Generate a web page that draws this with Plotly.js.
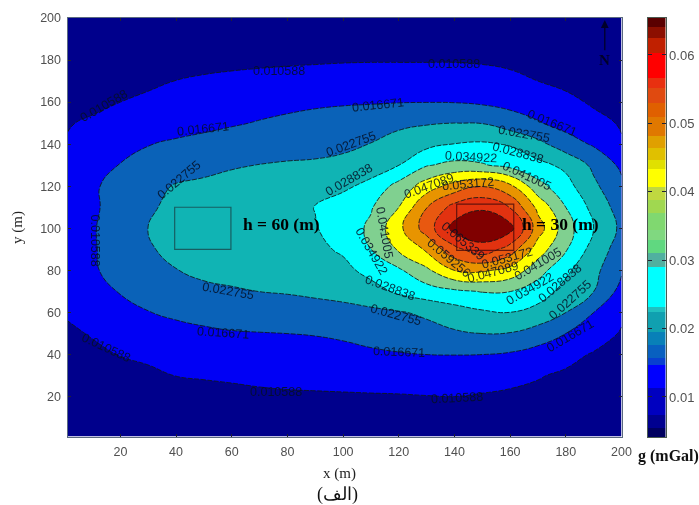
<!DOCTYPE html>
<html>
<head>
<meta charset="utf-8">
<script src="https://cdn.plot.ly/plotly-3.0.1.min.js"></script>
<style>html,body{margin:0;padding:0;background:#fff}#chart{width:699px;height:505px;filter:blur(0.35px)}</style>
</head>
<body>
<div id="chart"></div>
<script>
// Grid positions (m)
const xGrid = [1,10,20,30,40,50,60,70,80,90,100,110,120,130,140,150,160,170,180,190,200];
const yGrid = [1,10,20,30,40,50,60,70,80,90,100,110,120,130,140,150,160,170,180,190,200];
// Gravity, one row per y, in units of 0.001 mGal
const y1   = [4.3,4.5,4.8,5,5.3,5.5,5.7,5.9,6,6.1,6.2,6.2,6.3,6.3,6.2,6.2,6,5.8,5.5,5.2,4.8];
const y10  = [4.8,5.1,5.6,6,6.4,6.8,7.1,7.4,7.6,7.8,7.9,8,8,8,8,7.9,7.7,7.3,6.9,6.3,5.8];
const y20  = [5.5,6,6.7,7.4,8,8.6,9,9.6,9.9,10,10.1,10.2,10.3,10.5,10.6,10.3,10,9.5,8.8,8,7];
const y30  = [6.5,7.4,8.5,9.5,10.7,11.1,11.5,11.8,12,12.2,12.4,12.6,12.7,12.6,12.5,12.2,11.6,10.9,9.9,8.9,7.8];
const y40  = [8.2,9.5,10.8,11.7,12.4,13,13.4,13.7,14,14.4,15,15.8,16.3,16.7,16.8,16.7,16,14.3,12,10.2,8.8];
const y50  = [9.7,11,12.3,13.5,14.7,15.7,16.3,16.5,16.7,17,17.6,18.5,19.5,20.6,22,22.8,22.5,20,16.7,13,10.2];
const y60  = [11.2,13,15,16.5,17.8,18.5,19,19.5,20,20.6,21,21.6,22.3,23.8,26,28,28.8,27,22.8,16.7,11.5];
const y70  = [11.5,14.5,17,19,20.8,21.7,22.3,22.8,23.2,23.8,24.6,26.2,30,32.2,33.8,35.2,35,31.5,27,22.8,14.7];
const y80  = [12,16,18.8,21,22.6,23.8,24.2,24.6,25,25.4,27,31,34,39.8,47.1,48,45,37.5,30,24.5,17.4];
const y90  = [12.5,16.2,19,22,24.8,25.3,25.8,26.2,26.7,27.3,29.8,34.9,41.8,48,57.5,63,56.5,44,35.5,26.3,20];
const y100 = [12.6,16.3,19,22.8,25.2,25.8,26.3,26.8,27.3,28.5,31.7,36,45.5,56,67.5,70,67.5,50,37.5,28.8,21.5];
const y110 = [12.5,16,18.5,21.8,24.5,25.3,26,26.6,27.2,29,32,34.4,41,53,61.5,64.5,59,45.5,34.9,27,20];
const y120 = [12,16,18.5,21,23.2,24,24.8,25.2,25.5,26,27.6,30.7,37,44,49.5,53,48.5,37,31,24,18];
const y130 = [11.5,14,16.9,18.5,20,21,22.2,22.9,23.4,23.6,24.2,25.7,28.8,34.5,36.5,35.5,33,30.5,27.5,21.5,15.5];
const y140 = [11,13,15,16.5,17.5,18.2,19,19.6,20.2,20.8,21.6,22.9,25,27.2,29,29.6,28.4,24.5,19.5,16,11];
const y150 = [10.3,11.3,12.5,13.5,14.5,15.4,16.2,17,17.8,18.8,19.8,20.8,21.6,22.3,22.8,22.6,19.7,17.2,14.5,12,10.2];
const y160 = [8.5,9.5,10.6,11.8,12.8,13.6,14.2,14.8,15.3,15.7,16,16.2,16.5,16.6,16.5,15.8,14.8,13.5,11.8,10,8.8];
const y170 = [7,7.5,8.5,9.5,10.7,11.5,12,12.3,12.6,12.8,13,13,13,13,13,12.5,11.8,10.6,9.5,8.5,7.5];
const y180 = [6.2,6.5,7,7.5,8,8.6,9.1,9.5,9.8,10,10.2,10.3,10.3,10.3,10.3,10.1,9.6,9.2,8.7,8,7];
const y190 = [5.5,5.8,6.2,6.6,7,7.4,7.8,8.1,8.4,8.6,8.8,8.9,9,9,8.9,8.8,8.5,8.1,7.6,7,6.4];
const y200 = [4.6,4.8,5,5.2,5.4,5.6,5.8,6,6.2,6.4,6.6,6.8,7,7,7,6.9,6.7,6.5,6.2,5.9,5.6];
const zRows = [y1,y10,y20,y30,y40,y50,y60,y70,y80,y90,y100,y110,y120,y130,y140,y150,y160,y170,y180,y190,y200];

const levelStart = 0.0106, levelEnd = 0.0654, levelSize = 0.00608;
const fillColors = ['#00008c','#0000f5','#0a62b8','#10b4b4','#00ffff','#80d090','#ffff00','#e89400','#e85810','#e23210','#800000'];

// Colour bar bands: edges in mGal, colours between them
const barEdges = [.00415,.00547,.00737,.01132,.01468,.0157,.0176,.0195,.02243,.02316,.029,.03105,.03295,.03442,.0369,.0388,.0407,.04333,.04465,.0464,.04816,.05094,.05298,.05518,.05664,.06029,.06249,.0641,.0654];
const barColors = ['#000060','#000090','#0000c0','#0000ff','#0840d0','#0860c0','#0880b8','#10a0b0','#20c0c0','#00ffff','#50b0a0','#60d880','#80d880','#80d870','#a0d850','#c0d840','#ffff00','#e0e000','#e0c000','#e0a000','#e07800','#e06000','#e04a10','#e83010','#ff0000','#c02000','#8c0f00','#5a0000'];

// Contour labels: text, x, y, angle
const contourLabels = [
 ['0.010588',77,175,0],['0.010588',140,178,0],['0.010588',14,158,-30],['0.010588',11,94,90],
 ['0.010588',15,43,25],['0.010588',76,22,0],['0.010588',141,19.5,-3],
 ['0.016671',49.5,147,-6],['0.016671',112.5,158.6,-6],['0.016671',175,150,22],
 ['0.016671',57,50,4],['0.016671',120,41,2],['0.016671',181.5,49,-30],
 ['0.022755',41,123,-40],['0.022755',103,140,-20],['0.022755',165,145,10],
 ['0.022755',58.5,70,10],['0.022755',119,59,15],['0.022755',181.5,66,-42],
 ['0.028838',102,123,-30],['0.028838',163,136,15],['0.028838',117,71.5,20],['0.028838',178,74,-40],
 ['0.034922',146,134,3],['0.034922',110,89,60],['0.034922',167,71,-30],
 ['0.041005',166,125,25],['0.041005',115,98,80],['0.041005',170,83,-30],
 ['0.047089',131,120,-20],['0.047089',154,79,-15],
 ['0.053172',145,121,-5],['0.053172',159,86,-15],
 ['0.059256',138,86,40],['0.065339',143,94,40]
];
const barTicks = [0.01,0.02,0.03,0.04,0.05,0.06];
const xTicks = [20,40,60,80,100,120,140,160,180,200];
const yTicks = [20,40,60,80,100,120,140,160,180,200];

const W = 699, H = 505;
const px = v => v / W, py = v => 1 - v / H;
const nc = fillColors.length - 1;
const contourScale = [];
fillColors.forEach((c, k) => {
  contourScale.push([Math.max(0, (k - .5) / nc), c]);
  contourScale.push([Math.min(1, (k + .5) / nc), c]);
});
const nb = barColors.length - 1;
const barScale = [];
barColors.forEach((c, k) => {
  barScale.push([Math.max(0, (k - .5) / nb), c]);
  barScale.push([Math.min(1, (k + .5) / nb), c]);
});

const traces = [
  {type:'contour', x:xGrid, y:yGrid, z:zRows.map(r => r.map(v => v / 1000)),
   autocontour:false, contours:{coloring:'fill', start:levelStart, end:levelEnd, size:levelSize, showlines:true},
   colorscale:contourScale, showscale:false, line:{color:'rgba(15,25,25,0.85)', width:1, dash:'5px,1.5px', smoothing:1.3},
   hoverinfo:'skip', xaxis:'x', yaxis:'y'},
  {type:'heatmap', x:[0,1], y:barEdges, z:barColors.map((c,k) => [k]),
   zmin:0, zmax:nb, colorscale:barScale,
   showscale:false, hoverinfo:'skip', xaxis:'x2', yaxis:'y2'}
];

const tickFont = {family:'Liberation Sans, Arial, sans-serif', size:12.5, color:'#505050'};
const serif = 'Liberation Serif, Times New Roman, serif';
const centred = {xanchor:'center', yanchor:'middle', showarrow:false};

const annotations = contourLabels.map(([t,x,y,a]) => Object.assign({
  text:t, x, y, xref:'x', yref:'y', textangle:a,
  font:{family:'Liberation Sans, Arial, sans-serif', size:12.5, color:'rgba(5,15,35,0.85)'}
}, centred));
annotations.push(
  Object.assign({text:'<b>h = 60 (m)</b>', x:78, y:102, xref:'x', yref:'y', font:{family:serif, size:17.5, color:'#000'}}, centred),
  Object.assign({text:'<b>h = 30 (m)</b>', x:178, y:102, xref:'x', yref:'y', font:{family:serif, size:17.5, color:'#000'}}, centred),
  Object.assign({text:'<b>N</b>', x:194, y:180, xref:'x', yref:'y', font:{family:serif, size:15, color:'#00002a'}}, centred),
  {text:'', x:194, y:199, ax:194, ay:184, xref:'x', yref:'y', axref:'x', ayref:'y', showarrow:true, arrowhead:2, arrowsize:1.2, arrowwidth:1.3, arrowcolor:'#00002a'},
  Object.assign({text:'<b>g (mGal)</b>', x:px(668), y:py(456), xref:'paper', yref:'paper', font:{family:serif, size:16, color:'#111'}}, centred),
  Object.assign({text:'(الف)', x:px(337), y:py(494), xref:'paper', yref:'paper', font:{family:serif, size:18, color:'#111'}}, centred),
  Object.assign({text:'x (m)', x:px(339), y:py(473), xref:'paper', yref:'paper', font:{family:serif, size:15, color:'#222'}}, centred),
  Object.assign({text:'y (m)', x:px(18), y:py(228), xref:'paper', yref:'paper', textangle:-90, font:{family:serif, size:15, color:'#222'}}, centred)
);

const axisCommon = {showgrid:false, zeroline:false, showline:true, linecolor:'#5a6a80', linewidth:1,
  ticks:'inside', ticklen:3, tickcolor:'#223', tickwidth:1, mirror:'ticks', tickfont:tickFont};

const layout = {
  width:W, height:H, margin:{l:0,r:0,t:0,b:0}, paper_bgcolor:'#fff', plot_bgcolor:'#fff', showlegend:false,
  xaxis:Object.assign({}, axisCommon, {domain:[px(67.5),px(621.5)], range:[1,200], tickvals:xTicks, anchor:'y', ticklabelstandoff:3}),
  yaxis:Object.assign({}, axisCommon, {domain:[py(436.5),py(18)], range:[1,200], tickvals:yTicks, anchor:'x', ticklabelstandoff:3}),
  xaxis2:{domain:[px(648),px(665.5)], range:[0,1], anchor:'y2', showticklabels:false, ticks:'', showgrid:false, zeroline:false, showline:true, linecolor:'#4a5a50', mirror:true},
  yaxis2:Object.assign({}, axisCommon, {domain:[py(437),py(18)], range:[.00415,.0654], anchor:'x2', side:'right', tickvals:barTicks, ticktext:barTicks.map(v => v.toFixed(2)), linecolor:'#4a5a50', ticklen:4, tickfont:Object.assign({}, tickFont, {size:13})}),
  shapes:[
    {type:'rect', xref:'x', yref:'y', x0:39.5, x1:59.7, y0:90, y1:110, line:{color:'#165e62', width:1.2}},
    {type:'rect', xref:'x', yref:'y', x0:140.8, x1:161.3, y0:89.5, y1:111.5, line:{color:'rgba(70,10,10,0.8)', width:1.2}}
  ],
  annotations
};
Plotly.newPlot('chart', traces, layout, {displayModeBar:false, staticPlot:true});
</script>
</body>
</html>
